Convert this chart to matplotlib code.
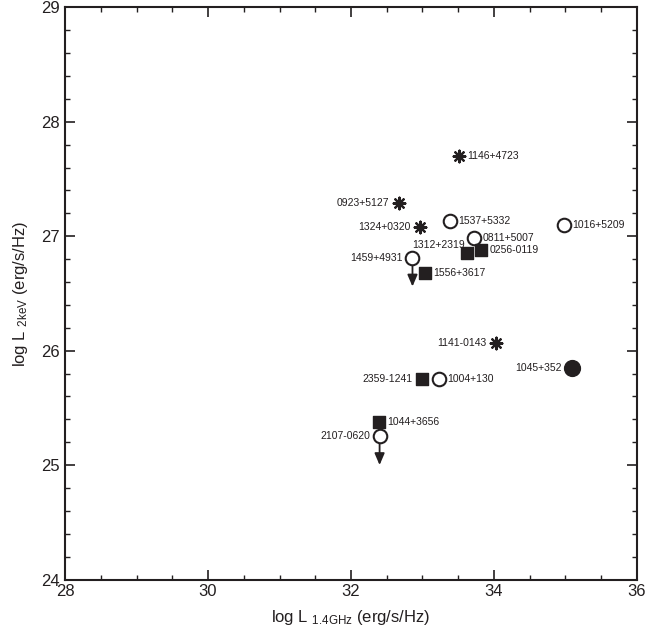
import numpy as np
import matplotlib
matplotlib.use('Agg')
import matplotlib.pyplot as plt
from matplotlib.ticker import MultipleLocator

plt.rcParams['font.family'] = ['Liberation Sans', 'DejaVu Sans']
plt.rcParams['mathtext.fontset'] = 'custom'
plt.rcParams['mathtext.rm'] = 'Liberation Sans'
plt.rcParams['mathtext.it'] = 'Liberation Sans:italic'

INK = '#231F20'

# 各类源: 名称, log L_1.4GHz, log L_2keV
star_names = ['1146+4723', '0923+5127', '1324+0320', '1141-0143']
star_x = [33.51, 32.67, 32.97, 34.03]
star_y = [27.70, 27.29, 27.08, 26.07]

open_names = ['1537+5332', '1016+5209', '0811+5007', '1004+130']
open_x = [33.38, 34.98, 33.72, 33.23]
open_y = [27.13, 27.10, 26.98, 25.75]

square_names = ['1312+2319', '0256-0119', '1556+3617', '2359-1241', '1044+3656']
square_x = [33.62, 33.82, 33.03, 33.00, 32.39]
square_y = [26.85, 26.88, 26.68, 25.75, 25.38]

filled_names = ['1045+352']
filled_x = [35.09]
filled_y = [25.85]

# 上限 (空心圆 + 向下箭头)
limit_names = ['1459+4931', '2107-0620']
limit_x = [32.86, 32.40]
limit_y = [26.81, 25.25]

# 标签放在左侧的源
left_labels = {'0923+5127', '1324+0320', '1459+4931', '1141-0143',
               '1045+352', '2359-1241', '2107-0620'}

fig = plt.figure(figsize=(6.47, 6.33), dpi=100)
ax = fig.add_axes([0.1005, 0.0845, 0.884, 0.904])

ax.scatter(star_x, star_y, marker=(8, 2, 0), s=70, color=INK, linewidths=1.6, zorder=3)
ax.scatter(open_x + limit_x, open_y + limit_y, marker='o', s=95, facecolor='white',
           edgecolor=INK, linewidths=1.5, zorder=3)
ax.scatter(square_x, square_y, marker='s', s=75, color=INK, zorder=3)
ax.scatter(filled_x, filled_y, marker='o', s=130, color=INK, zorder=3)

for x, y in zip(limit_x, limit_y):
    ax.annotate('', xy=(x, y - 0.25), xytext=(x, y - 0.055),
                arrowprops=dict(arrowstyle='-|>,head_length=0.7,head_width=0.3',
                                color=INK, lw=1.3, shrinkA=0, shrinkB=0),
                zorder=2)

all_names = star_names + open_names + square_names + filled_names + limit_names
all_x = star_x + open_x + square_x + filled_x + limit_x
all_y = star_y + open_y + square_y + filled_y + limit_y

for name, x, y in zip(all_names, all_x, all_y):
    if name == '1312+2319':
        ax.annotate(name, (x, y), xytext=(-1, 6), textcoords='offset points',
                    ha='right', va='center', fontsize=7.5, color=INK)
    elif name in left_labels:
        ax.annotate(name, (x, y), xytext=(-7, 0), textcoords='offset points',
                    ha='right', va='center', fontsize=7.5, color=INK)
    else:
        ax.annotate(name, (x, y), xytext=(6, 0), textcoords='offset points',
                    ha='left', va='center', fontsize=7.5, color=INK)

ax.set_xlim(28, 36)
ax.set_ylim(24, 29)
ax.xaxis.set_major_locator(MultipleLocator(2))
ax.xaxis.set_minor_locator(MultipleLocator(0.5))
ax.yaxis.set_major_locator(MultipleLocator(1))
ax.yaxis.set_minor_locator(MultipleLocator(0.2))
ax.tick_params(which='both', direction='in', top=True, right=True,
               color=INK, labelcolor=INK, labelsize=12)
ax.tick_params(which='major', length=7, width=1.2)
ax.tick_params(which='minor', length=3.5, width=1.0)
for sp in ax.spines.values():
    sp.set_linewidth(1.5)
    sp.set_color(INK)

ax.set_xlabel(r'log L $_{\mathrm{1.4GHz}}$ (erg/s/Hz)', fontsize=12, color=INK, labelpad=6)
ax.set_ylabel(r'log L $_{\mathrm{2keV}}$ (erg/s/Hz)', fontsize=12, color=INK, labelpad=8)

fig.savefig('out.png', dpi=100)
